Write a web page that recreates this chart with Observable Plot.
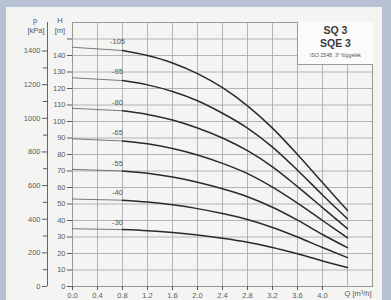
<!DOCTYPE html>
<html><head><meta charset="utf-8">
<script src="https://cdn.jsdelivr.net/npm/d3@7"></script>
<script src="https://cdn.jsdelivr.net/npm/@observablehq/plot@0.6"></script>
<style>
html,body{margin:0;padding:0;}
body{width:391px;height:300px;background:#b7c1d4;position:relative;overflow:hidden;font-family:"Liberation Sans",Arial,sans-serif;}
#paper{position:absolute;left:6px;top:7px;width:376px;height:293px;background:#f4f4f3;}
#chart{position:absolute;left:0;top:0;}
.lbl{position:absolute;color:#555;font-size:7.5px;line-height:1;width:24px;text-align:center;}
#box{position:absolute;left:297px;top:22px;width:75px;height:42px;background:#fbfbfb;border-left:1px solid #9a9a9a;border-bottom:1px solid #9a9a9a;text-align:center;color:#3a3a3a;}
#box .t{font-size:10.5px;font-weight:bold;line-height:13px;}
#box .s{font-size:5.2px;color:#555;margin-top:2px;white-space:nowrap;}
</style></head><body>
<div id="paper"></div>
<div id="chart"></div>
<div class="lbl" style="left:23px;top:17px">p</div>
<div class="lbl" style="left:24px;top:27px">[kPa]</div>
<div class="lbl" style="left:48px;top:17px">H</div>
<div class="lbl" style="left:48px;top:27px">[m]</div>
<div id="box"><div class="t" style="margin-top:2px">SQ 3</div><div class="t">SQE 3</div><div class="s">ISO 2548, 3° függelék</div></div>
<script>
const q = [0, 0.8, 1.2, 1.6, 2.0, 2.4, 2.8, 3.2, 3.6, 4.0, 4.4];
const stages = ["-105", "-95", "-80", "-65", "-55", "-40", "-30"];
const h105 = [145, 143, 140, 135.5, 129, 120.5, 109.5, 96, 80, 63, 46];
const h95  = [126.5, 124.8, 122.2, 118.2, 112.6, 105, 96, 84.5, 70.5, 55.5, 41];
const h80  = [108, 106.5, 104.3, 100.9, 96.1, 90, 82.3, 72.5, 60.5, 47.8, 35];
const h65  = [89.5, 88.2, 86.5, 83.6, 79.7, 74.6, 68.4, 60.2, 50.5, 40, 29.5];
const h55  = [71, 70, 68.6, 66.3, 63.2, 59.2, 54.4, 48, 40.2, 31.5, 23.5];
const h40  = [53, 52.3, 51.2, 49.5, 47.2, 44.2, 40.6, 35.8, 30, 23.6, 17.5];
const h30  = [35, 34.5, 33.8, 32.7, 31.2, 29.2, 26.8, 23.7, 19.8, 15.5, 11.5];
const xTicks = [0, 0.4, 0.8, 1.2, 1.6, 2.0, 2.4, 2.8, 3.2, 3.6, 4.0];
const xGrid = [0, 0.4, 0.8, 1.2, 1.6, 2.0, 2.4, 2.8, 3.2, 3.6, 4.0, 4.4, 4.8];
const hTicks = [0, 10, 20, 30, 40, 50, 60, 70, 80, 90, 100, 110, 120, 130, 140, 150];
const hGrid = [0, 10, 20, 30, 40, 50, 60, 70, 80, 90, 100, 110, 120, 130, 140, 150, 160];
const kpaTicks = [0, 200, 400, 600, 800, 1000, 1200, 1400];
const kpaMinor = [100, 300, 500, 700, 900, 1100, 1300];
const qTitle = ["Q [m³/h]"];
const qTitleAt = 4.4;
const kpaPerM = 9.81;

const heads = [h105, h95, h80, h65, h55, h40, h30];
const rows = stages.flatMap((s, i) => q.map((Q, j) => ({s, Q, H: heads[i][j]})));
const thin = rows.filter(d => d.Q <= q[1]);
const thick = rows.filter(d => d.Q >= q[1]);
const labelRows = stages.map((s, i) => ({s, Q: q[1], H: heads[i][0]}));

const chart = Plot.plot({
  width: 391, height: 300,
  marginLeft: 72, marginRight: 19, marginTop: 22, marginBottom: 14,
  style: {background: "transparent", fontFamily: "Liberation Sans, Arial, sans-serif", fontSize: "7.5px", color: "#5a5a5a"},
  x: {domain: [0, 4.8]},
  y: {domain: [0, 160]},
  marks: [
    Plot.gridX({ticks: xGrid, stroke: "#a3a3a3", strokeOpacity: 1, strokeWidth: 0.8}),
    Plot.gridY({ticks: hGrid, stroke: "#a3a3a3", strokeOpacity: 1, strokeWidth: 0.8}),
    Plot.frame({stroke: "#999"}),
    Plot.axisX({ticks: xTicks, tickFormat: d => d.toFixed(1), tickSize: 4, tickPadding: 2, label: null}),
    Plot.text(qTitle, {x: qTitleAt, frameAnchor: "bottom", dy: 9, dx: -3, textAnchor: "start", fill: "#5a5a5a"}),
    Plot.axisY({ticks: hTicks, tickFormat: d => d <= 140 ? String(d) : "", tickSize: 5, tickPadding: 2, label: null}),
    Plot.axisY({ticks: kpaTicks.map(k => k / kpaPerM), tickFormat: d => String(Math.round(d * kpaPerM)), dx: -25, tickSize: 5, tickPadding: 2, label: null}),
    Plot.axisY({ticks: kpaMinor.map(k => k / kpaPerM), tickFormat: () => "", dx: -25, tickSize: 4, label: null}),
    Plot.ruleX([0], {dx: -25, stroke: "#666"}),
    Plot.line(thin, {x: "Q", y: "H", z: "s", stroke: "#5a5a5a", strokeWidth: 0.8}),
    Plot.line(thick, {x: "Q", y: "H", z: "s", curve: "monotone-x", stroke: "#2a2a2a", strokeWidth: 1.5}),
    Plot.text(labelRows, {x: "Q", y: "H", text: "s", dy: -6, dx: -5, fill: "#555"})
  ]
});
document.getElementById("chart").appendChild(chart);
</script>
</body></html>
